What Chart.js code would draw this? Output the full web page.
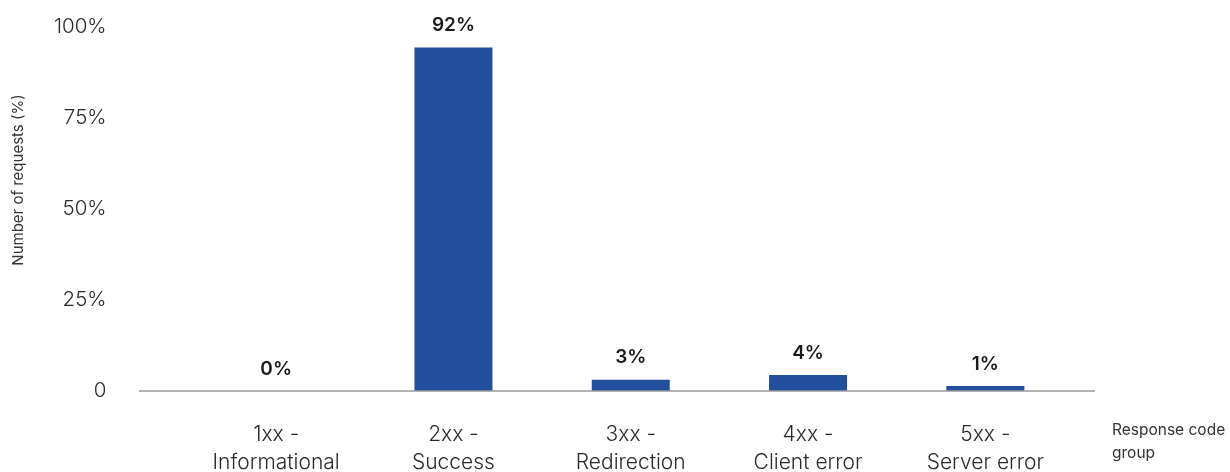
<!DOCTYPE html>
<html>
<head>
<meta charset="utf-8">
<script src="https://cdn.jsdelivr.net/npm/chart.js@4.4.1/dist/chart.umd.min.js"></script>
<style>
  html, body { margin: 0; padding: 0; background: #ffffff; }
  #wrap { position: relative; width: 1230px; height: 472px; }
</style>
</head>
<body>
<div id="wrap"><canvas id="c" width="1230" height="472"></canvas></div>
<script>
const categories = [
  ['1xx -', 'Informational'],
  ['2xx -', 'Success'],
  ['3xx -', 'Redirection'],
  ['4xx -', 'Client error'],
  ['5xx -', 'Server error']
];
const shareOfRequests = [0, 94.4, 3.1, 4.4, 1.4];
const valueLabels = ['0%', '92%', '3%', '4%', '1%'];
const yTicks = [0, 25, 50, 75, 100];
const yAxisTitle = 'Number of requests (%)';
const xAxisTitle = ['Response code', 'group'];

const BAR = '#244f9c';
const TEXT = '#2a2a2a';
const FONT = 'Inter, "Noto Sans", sans-serif';

const extrasPlugin = {
  id: 'extras',
  afterDatasetsDraw(chart) {
    const ctx = chart.ctx;
    const y = chart.scales.y;
    const meta = chart.getDatasetMeta(0);
    const base = y.getPixelForValue(0);
    ctx.save();
    ctx.strokeStyle = '#9a9a9a';
    ctx.lineWidth = 1.5;
    ctx.beginPath();
    ctx.moveTo(139, base);
    ctx.lineTo(1095, base);
    ctx.stroke();
    ctx.fillStyle = '#1a1a1a';
    ctx.font = '600 19px ' + FONT;
    ctx.textAlign = 'center';
    ctx.textBaseline = 'middle';
    meta.data.forEach((bar, i) => {
      ctx.fillText(valueLabels[i], bar.x, bar.y - 22);
    });
    ctx.fillStyle = '#333333';
    ctx.font = '400 15px ' + FONT;
    ctx.save();
    ctx.translate(18, 180);
    ctx.rotate(-Math.PI / 2);
    ctx.fillText(yAxisTitle, 0, 0);
    ctx.restore();
    ctx.textAlign = 'left';
    ctx.font = '400 15.5px ' + FONT;
    ctx.fillText(xAxisTitle[0], 1112, 430);
    ctx.fillText(xAxisTitle[1], 1112, 453);
    ctx.restore();
  }
};

new Chart(document.getElementById('c'), {
  type: 'bar',
  data: {
    labels: categories,
    datasets: [{
      data: shareOfRequests,
      backgroundColor: BAR,
      borderWidth: 0,
      barPercentage: 0.44,
      categoryPercentage: 1.0
    }]
  },
  options: {
    responsive: false,
    animation: false,
    layout: { autoPadding: false, padding: { top: 27, right: 156, left: 0, bottom: 0 } },
    plugins: { legend: { display: false }, tooltip: { enabled: false } },
    scales: {
      x: {
        grid: { display: false, drawTicks: false },
        border: { display: false },
        ticks: {
          color: TEXT,
          font: { family: FONT, size: 21, weight: 300, lineHeight: 1.333 },
          padding: 29.5,
          maxRotation: 0,
          autoSkip: false
        },
        afterFit(scale) {
          scale.height = 81;
          scale.paddingLeft = 0; scale.paddingRight = 0;
          scale.paddingTop = 0; scale.paddingBottom = 0;
        }
      },
      y: {
        min: 0,
        max: 100,
        afterBuildTicks(scale) { scale.ticks = yTicks.map(v => ({ value: v })); },
        grid: { display: false, drawTicks: false },
        border: { display: false },
        ticks: {
          color: TEXT,
          font: { family: FONT, size: 20.5, weight: 300 },
          padding: 81,
          callback: (v) => v === 0 ? '0' : v + '%'
        },
        afterFit(scale) {
          scale.width = 187.5;
          scale.paddingLeft = 0; scale.paddingRight = 0;
          scale.paddingTop = 0; scale.paddingBottom = 0;
        }
      }
    }
  },
  plugins: [extrasPlugin]
});
</script>
</body>
</html>
